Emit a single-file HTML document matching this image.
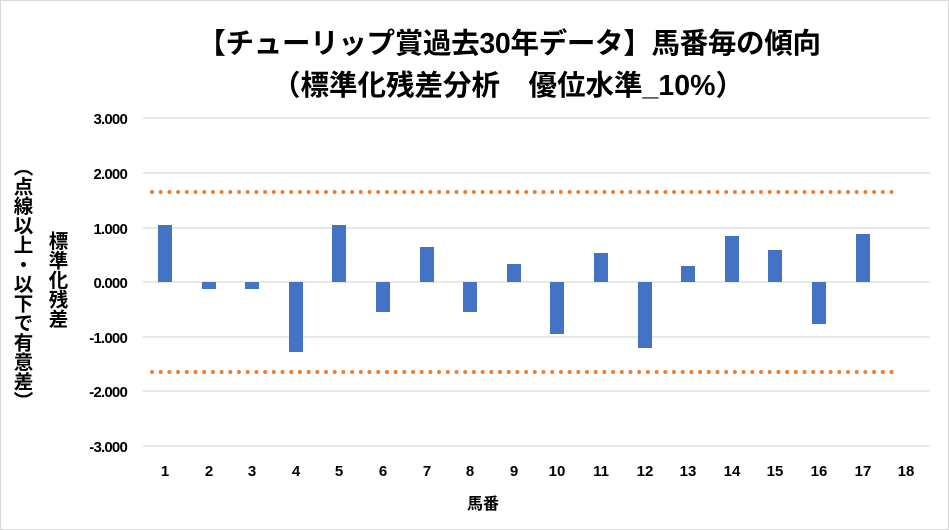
<!DOCTYPE html>
<html><head><meta charset="utf-8"><style>
body{margin:0;background:#fff;}
.wrap{position:relative;width:947px;height:528px;border:1px solid #d9d9d9;background:#fff;overflow:hidden;font-family:"Liberation Sans","Noto Sans CJK JP",sans-serif;}
.v{position:absolute;writing-mode:vertical-rl;font-weight:bold;color:#000;font-family:"Noto Sans CJK JP",sans-serif;}
</style></head><body><div class="wrap">
<svg width="949" height="530" style="position:absolute;left:-1px;top:-1px" font-family="Liberation Sans, Noto Sans CJK JP, sans-serif">
<text x="509" y="53" text-anchor="middle" font-size="28.5" font-weight="bold" letter-spacing="-0.3">【チューリップ賞過去30年データ】馬番毎の傾向</text>
<text x="508" y="95" text-anchor="middle" font-size="28.5" font-weight="bold">（標準化残差分析　優位水準_10%）</text>
<g stroke="#d9d9d9" stroke-width="1.3">
<line x1="143" x2="930" y1="118" y2="118"/><line x1="143" x2="930" y1="173" y2="173"/><line x1="143" x2="930" y1="228" y2="228"/><line x1="143" x2="930" y1="282" y2="282"/><line x1="143" x2="930" y1="337" y2="337"/><line x1="143" x2="930" y1="391" y2="391"/><line x1="143" x2="930" y1="446" y2="446"/>
</g>
<g font-size="15" font-weight="bold" text-anchor="end" letter-spacing="-0.8">
<text x="127" y="124">3.000</text><text x="127" y="179">2.000</text><text x="127" y="234">1.000</text><text x="127" y="288">0.000</text><text x="127" y="343">-1.000</text><text x="127" y="397">-2.000</text><text x="127" y="452">-3.000</text>
</g>
<g fill="#4472c4">
<rect x="158" y="225" width="14" height="57"/>
<rect x="202" y="282" width="14" height="7"/>
<rect x="245" y="282" width="14" height="7"/>
<rect x="289" y="282" width="14" height="70"/>
<rect x="332" y="225" width="14" height="57"/>
<rect x="376" y="282" width="14" height="30"/>
<rect x="420" y="247" width="14" height="35"/>
<rect x="463" y="282" width="14" height="30"/>
<rect x="507" y="264" width="14" height="18"/>
<rect x="550" y="282" width="14" height="52"/>
<rect x="594" y="253" width="14" height="29"/>
<rect x="638" y="282" width="14" height="66"/>
<rect x="681" y="266" width="14" height="16"/>
<rect x="725" y="236" width="14" height="46"/>
<rect x="768" y="250" width="14" height="32"/>
<rect x="812" y="282" width="14" height="42"/>
<rect x="856" y="234" width="14" height="48"/>
</g>
<g stroke="#ed7d31" stroke-width="4" stroke-linecap="round" stroke-dasharray="0 8.7">
<line x1="152" x2="900" y1="192" y2="192"/><line x1="152" x2="900" y1="372" y2="372"/>
</g>
<g font-size="15" font-weight="bold" text-anchor="middle">
<text x="165" y="476">1</text><text x="209" y="476">2</text><text x="252" y="476">3</text><text x="296" y="476">4</text><text x="339" y="476">5</text><text x="383" y="476">6</text><text x="427" y="476">7</text><text x="470" y="476">8</text><text x="514" y="476">9</text><text x="557" y="476">10</text><text x="601" y="476">11</text><text x="645" y="476">12</text><text x="688" y="476">13</text><text x="732" y="476">14</text><text x="775" y="476">15</text><text x="819" y="476">16</text><text x="863" y="476">17</text><text x="906" y="476">18</text>
</g>
<text x="483" y="509" text-anchor="middle" font-size="16" font-weight="bold">馬番</text>
</svg>
<div class="v" style="left:10px;top:156px;font-size:19.5px;line-height:24px;">（点線以上・以下で有意差）</div>
<div class="v" style="left:46px;top:230px;font-size:19.5px;line-height:22px;">標準化残差</div>
</div></body></html>
